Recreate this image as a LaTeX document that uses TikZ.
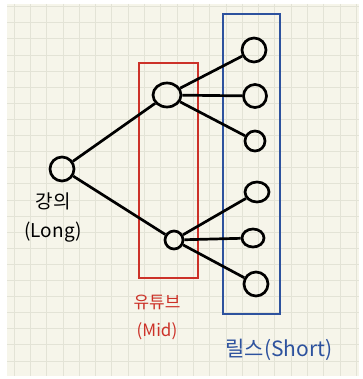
\documentclass[tikz,border=0pt]{standalone}
\usepackage{fontspec}
\setmainfont{Noto Sans CJK KR}
\usetikzlibrary{shapes.geometric}
\definecolor{paper}{HTML}{F6F5EA}
\definecolor{gridc}{HTML}{E3E3D6}
\definecolor{redc}{HTML}{CC3128}
\definecolor{bluec}{HTML}{2D529E}
\tikzset{
  nd/.style={draw=black, line width=2.7pt, ellipse, inner sep=0pt},
  edge/.style={draw=black, line width=2.7pt},
  frame/.style={line width=2.8pt},
  lbl/.style={align=center, inner sep=0pt}
}
\begin{document}
\begin{tikzpicture}[x=1pt,y=-1pt]
\useasboundingbox (0,0) rectangle (362,379);
\fill[white] (0,0) rectangle (362,379);
\fill[paper] (7,4) rectangle (359,376);
\begin{scope}
\clip (7,4) rectangle (359,376);
\foreach \i in {0,...,21} {\draw[gridc, line width=0.8pt] ({14+16.3*\i},4) -- ({14+16.3*\i},376);}
\foreach \j in {0,...,22} {\draw[gridc, line width=0.8pt] (7,{6.7+16.1*\j}) -- (359,{6.7+16.1*\j});}
\end{scope}
% frames
\node[draw=redc, frame, minimum width=59pt, minimum height=215pt, inner sep=0pt] (midbox) at (168.5,170.5) {};
\node[draw=bluec, frame, minimum width=57pt, minimum height=300pt, inner sep=0pt] (shortbox) at (251.5,164) {};
% nodes
\node[nd, minimum width=24pt, minimum height=24pt] (long) at (62,169) {};
\node[nd, minimum width=28pt, minimum height=24pt] (m1) at (167,95) {};
\node[nd, minimum width=18pt, minimum height=18pt] (m2) at (174,240) {};
\node[nd, minimum width=24pt, minimum height=24pt] (s1) at (254,50) {};
\node[nd, minimum width=23pt, minimum height=23pt] (s2) at (255,96) {};
\node[nd, minimum width=20pt, minimum height=20pt] (s3) at (255,141) {};
\node[nd, minimum width=24pt, minimum height=20pt] (s4) at (257,192) {};
\node[nd, minimum width=22pt, minimum height=18pt] (s5) at (253,238) {};
\node[nd, minimum width=24pt, minimum height=24pt] (s6) at (256,284) {};
% edges
\draw[edge] (long) -- (m1);
\draw[edge] (long) -- (m2);
\draw[edge] (m1) -- (s1);
\draw[edge] (m1) -- (s2);
\draw[edge] (m1) -- (s3);
\draw[edge] (m2) -- (s4);
\draw[edge] (m2) -- (s5);
\draw[edge] (m2) -- (s6);
% labels
\node[lbl, text=black, font=\fontsize{19}{29}\selectfont] (longlbl) at (53,218) {강의\\(Long)};
\node[lbl, text=redc, font=\fontsize{17}{28}\selectfont] (midlbl) at (157,317) {유튜브\\(Mid)};
\node[lbl, text=bluec, font=\fontsize{21}{24}\selectfont] (shortlbl) at (279,350) {릴스(Short)};
\end{tikzpicture}
\end{document}
